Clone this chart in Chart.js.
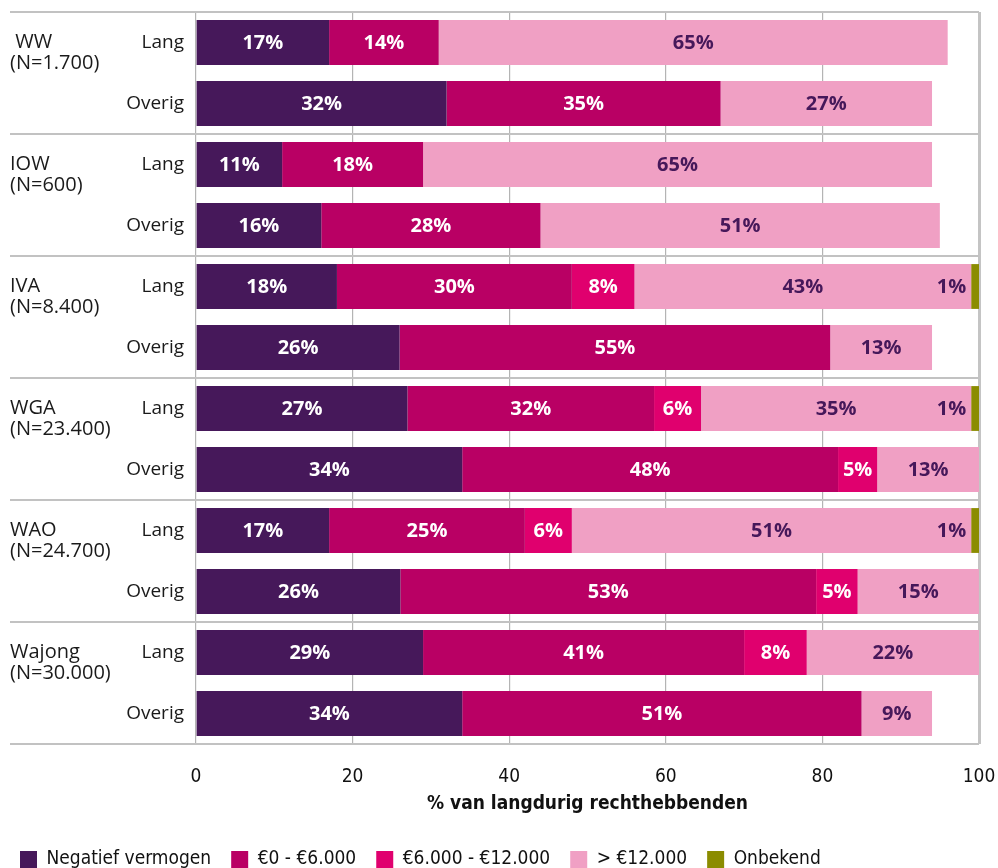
<!DOCTYPE html>
<html><head><meta charset="utf-8">
<script src="https://cdn.jsdelivr.net/npm/chart.js@4/dist/chart.umd.min.js"></script>
<style>html,body{margin:0;padding:0;overflow:hidden;background:#fff}#wrap{width:998px;height:868px;overflow:hidden}canvas{display:block}</style>
</head><body><div id="wrap"><canvas id="c" width="998" height="880"></canvas></div>
<script>
// ---- data ----
const groups = [" WW", "IOW", "IVA", "WGA", "WAO", "Wajong"];
const groupN = ["(N=1.700)", "(N=600)", "(N=8.400)", "(N=23.400)", "(N=24.700)", "(N=30.000)"];
const rowTypes = ["Lang", "Overig"];
const categories = ["WW Lang","WW Overig","IOW Lang","IOW Overig","IVA Lang","IVA Overig","WGA Lang","WGA Overig","WAO Lang","WAO Overig","Wajong Lang","Wajong Overig"];
const seriesNames = ["Negatief vermogen", "€0 - €6.000", "€6.000 - €12.000", "> €12.000", "Onbekend"];
// unrounded estimates; labels show the rounded percentages
const negatiefVermogen = [17, 32, 11, 16, 18, 26, 27, 34, 17, 26.1, 29, 34];
const eur0tot6000     = [14, 35, 18, 28, 30, 55, 31.5, 48, 25, 53.1, 41, 51];
const eur6000tot12000 = [null, null, null, null, 8, null, 6, 5, 6, 5.3, 8, null];
const boven12000      = [65, 27, 65, 51, 43, 13, 34.5, 13, 51, 15.49, 22, 9];
const onbekend        = [null, null, null, null, 1, null, 1, null, 1, null, null, null];
const xTicks = [0, 20, 40, 60, 80, 100];
const xTitle = "% van langdurig rechthebbenden";

// ---- styles ----
const colors = ["#46185a", "#b90064", "#e0006e", "#f0a0c4", "#8b8c00"];
const labelColors = ["#ffffff", "#ffffff", "#ffffff", "#46185a", "#46185a"];
const humanist = "'Open Sans', 'Noto Sans', sans-serif";
const condensed = "'Liberation Sans Narrow', 'DejaVu Sans Condensed', 'Roboto Condensed', sans-serif";
const seriesData = [negatiefVermogen, eur0tot6000, eur6000tot12000, boven12000, onbekend];

const groupPlugin = {
  id: 'groups',
  beforeDatasetsDraw(chart) {
    const ctx = chart.ctx, y = chart.scales.y, ca = chart.chartArea;
    ctx.save();
    ctx.strokeStyle = '#c2c2c2';
    ctx.lineWidth = 2;
    for (let k = 0; k <= groups.length; k++) {
      const yy = Math.round(y.getPixelForValue(2 * k - 0.5));
      ctx.beginPath();
      ctx.moveTo(10, yy);
      ctx.lineTo(ca.right, yy);
      ctx.stroke();
    }
    ctx.restore();
  },
  afterDraw(chart) {
    const ctx = chart.ctx, y = chart.scales.y;
    ctx.save();
    ctx.font = "20px " + humanist;
    ctx.fillStyle = '#1a1a1a';
    ctx.textAlign = 'left';
    ctx.textBaseline = 'middle';
    groups.forEach((g, k) => {
      const yy = y.getPixelForValue(2 * k);
      ctx.fillText(g, 10, yy);
      ctx.fillText(groupN[k], 10, yy + 21);
    });
    ctx.restore();
  }
};

const labelPlugin = {
  id: 'barLabels',
  afterDatasetsDraw(chart) {
    const ctx = chart.ctx;
    ctx.save();
    ctx.font = "bold 20px " + humanist;
    ctx.textBaseline = 'middle';
    chart.data.datasets.forEach((ds, di) => {
      const meta = chart.getDatasetMeta(di);
      meta.data.forEach((bar, i) => {
        const v = ds.data[i];
        if (v === null || v === undefined) return;
        const txt = Math.round(v) + '%';
        ctx.fillStyle = labelColors[di];
        if (di === 4) {
          ctx.textAlign = 'right';
          ctx.fillText(txt, Math.min(bar.x, bar.base) - 5, bar.y + 1);
        } else {
          ctx.textAlign = 'center';
          ctx.fillText(txt, (bar.x + bar.base) / 2, bar.y + 1);
        }
      });
    });
    ctx.restore();
  }
};

new Chart(document.getElementById('c'), {
  type: 'bar',
  data: {
    labels: categories,
    datasets: seriesData.map((d, i) => ({
      label: seriesNames[i],
      data: d,
      backgroundColor: colors[i],
      borderWidth: 0,
      barPercentage: 0.735,
      categoryPercentage: 1
    }))
  },
  options: {
    indexAxis: 'y',
    responsive: false,
    animation: false,
    devicePixelRatio: 1,
    layout: { padding: { left: 0, right: 19, top: 12, bottom: 1 } },
    scales: {
      x: {
        stacked: true,
        min: 0, max: 100,
        afterBuildTicks(scale) { scale.ticks = xTicks.map(v => ({ value: v })); },
        afterFit(scale) { scale.height = 86; scale.paddingLeft = 0; scale.paddingRight = 0; },
        border: { display: false },
        grid: {
          drawTicks: false,
          color: ctx => ctx.tick && ctx.tick.value === 100 ? '#c4c4c4' : '#b4b4b4',
          lineWidth: ctx => ctx.tick && ctx.tick.value === 100 ? 3 : 1.2
        },
        ticks: { padding: 22, color: '#111', font: { family: condensed, size: 19 } },
        title: { display: true, text: xTitle, color: '#111', font: { family: condensed, size: 19, weight: 'bold' }, padding: { top: 0, bottom: 15 } }
      },
      y: {
        stacked: true,
        afterFit(scale) { scale.width = 196; scale.paddingTop = 0; scale.paddingBottom = 0; },
        border: { display: false },
        grid: { display: false, drawTicks: false },
        ticks: {
          padding: 12,
          color: '#1a1a1a',
          font: { family: humanist, size: 19 },
          callback: (v, i) => rowTypes[i % 2]
        }
      }
    },
    plugins: {
      tooltip: { enabled: false },
      legend: {
        position: 'bottom',
        align: 'start',
        labels: {
          boxWidth: 17, boxHeight: 17, padding: 20,
          color: '#111',
          font: { family: condensed, size: 19 }
        }
      }
    }
  },
  plugins: [groupPlugin, labelPlugin]
});
</script></body></html>
